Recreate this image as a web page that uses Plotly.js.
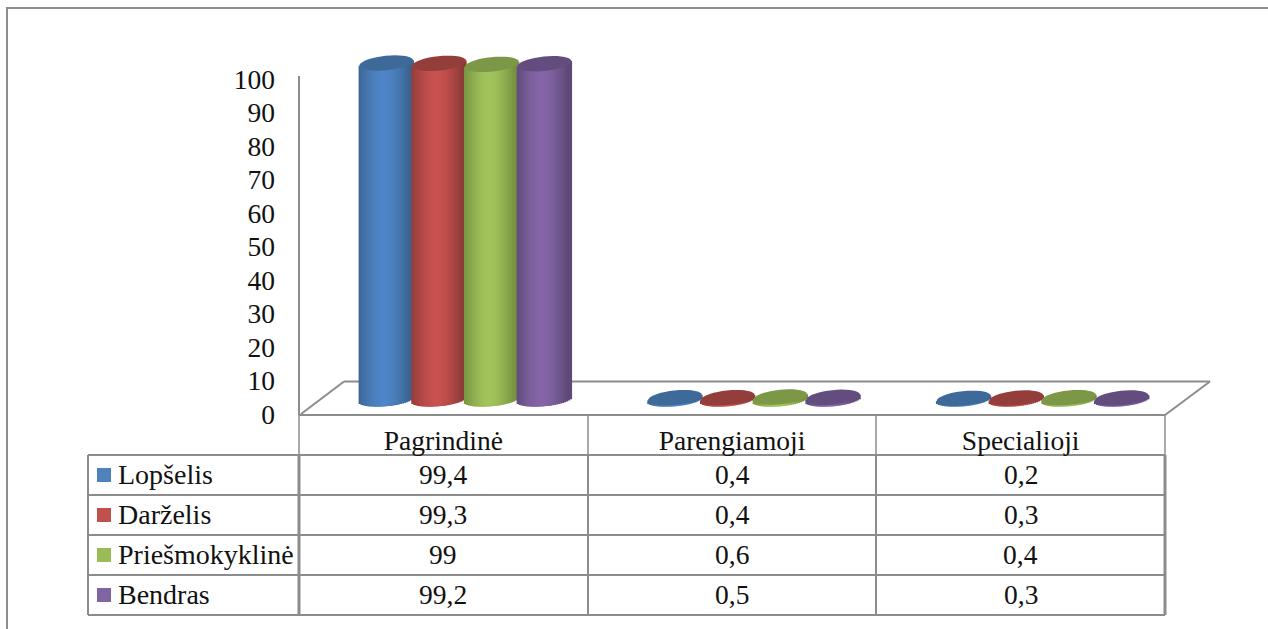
<!DOCTYPE html>
<html><head><meta charset="utf-8">
<script src="https://cdn.plot.ly/plotly-3.0.1.min.js"></script>
<style>html,body{margin:0;padding:0;background:#fff}#c{width:1268px;height:629px}</style>
</head><body><div id="c"></div>
<script>
var categories = ["Pagrindinė", "Parengiamoji", "Specialioji"];
var seriesNames = ["Lopšelis", "Darželis", "Priešmokyklinė", "Bendras"];
var lopselis = [99.4, 0.4, 0.2];
var darzelis = [99.3, 0.4, 0.3];
var priesmokykline = [99, 0.6, 0.4];
var bendras = [99.2, 0.5, 0.3];
var valueLabels = [["99,4","0,4","0,2"],["99,3","0,4","0,3"],["99","0,6","0,4"],["99,2","0,5","0,3"]];
var yTicks = [0,10,20,30,40,50,60,70,80,90,100];

var seriesValues = [lopselis, darzelis, priesmokykline, bendras];
var bodyCenter = ["#4f86c8","#c9524f","#a2c45c","#8565a8"];
var bodyEdge   = ["#3a6491","#8e3b39","#76913f","#5e4a78"];
var topColor   = ["#3e6a99","#933e3b","#7c9745","#634d7e"];
var swatch     = ["#4f81bd","#c0504d","#9bbb59","#8064a2"];

var W=1268,H=629;
var gray="#8c8c8c";
var colX=[299,588,876,1165], tableLeft=88, rowY=[415,455,495,535,575,615];
var pxX=(colX[3]-colX[0])/3, pxY=3.35;
var yMax=(414-40)/pxY;
var depthX=22/pxX, baseVal=(414-399)/pxY, persp=1.009;
var step=52.7/pxX, rx=27, ry=7.2, tilt=-6*Math.PI/180, N=27;
function hex(c){return [parseInt(c.slice(1,3),16),parseInt(c.slice(3,5),16),parseInt(c.slice(5,7),16)];}
function mix(a,b,t){var A=hex(a),B=hex(b);return "rgb("+A.map(function(v,i){return Math.round(v+(B[i]-v)*t);}).join(",")+")";}
// lower edge of a tilted ellipse at px offset dx
function ellipseLow(dx){
  var c=Math.cos(tilt),s=Math.sin(tilt),best=-1e9;
  for(var a=0;a<=360;a+=1){
    var t=a*Math.PI/180,x=rx*Math.cos(t)*c-ry*Math.sin(t)*s,y=rx*Math.cos(t)*s+ry*Math.sin(t)*c;
    if(Math.abs(x-dx)<1.2&&y>best)best=y;
  }
  return best<-1e8?0:best;
}
var traces=[],shapes=[],annotations=[];
seriesValues.forEach(function(vals,s){
  for(var k=0;k<N;k++){
    var f=(k+0.5)/N*2-1, dxPx=f*rx;
    var low=ellipseLow(dxPx)/pxY;
    var topDelta=-dxPx*Math.tan(tilt)/pxY;
    var sh=Math.abs(f+0.08); sh=Math.min(1,sh/0.95);
    traces.push({type:"bar",name:seriesNames[s],showlegend:false,hoverinfo:"skip",cliponaxis:false,
      x:categories.map(function(c,i){return i+depthX+(s-1.5)*step+dxPx/pxX;}),
      y:vals.map(function(v){return v*persp+low+topDelta;}),
      base:vals.map(function(){return baseVal-low;}),
      width:2*rx/N*1.7/pxX,
      marker:{color:mix(bodyCenter[s],bodyEdge[s],Math.pow(sh,1.6)),line:{width:0}}});
  }
});
// top ellipses
seriesValues.forEach(function(vals,s){
  vals.forEach(function(v,i){
    var cx=i+depthX+(s-1.5)*step, cy=baseVal+v*persp, p=[];
    for(var a=0;a<360;a+=10){
      var t=a*Math.PI/180,ex=rx*Math.cos(t),ey=ry*Math.sin(t);
      var X=ex*Math.cos(tilt)-ey*Math.sin(tilt),Y=ex*Math.sin(tilt)+ey*Math.cos(tilt);
      p.push((a?"L":"M")+(cx+X/pxX).toFixed(5)+","+(cy-Y/pxY).toFixed(4));
    }
    shapes.push({type:"path",xref:"x",yref:"y",layer:"above",path:p.join(" ")+" Z",fillcolor:topColor[s],line:{width:0}});
  });
});
function pLine(x0,y0,x1,y1,w){
  shapes.push({type:"line",xref:"paper",yref:"paper",layer:"below",x0:x0/W,x1:x1/W,y0:1-y0/H,y1:1-y1/H,line:{color:gray,width:w||2}});
}
// frame
pLine(7,8,W,8,2); pLine(7,7,7,629,2);
// y axis wall line and floor
pLine(299,76,299,415,2);
pLine(301,414,344,381.5,2); pLine(344,381.5,1210,381.5,2); pLine(1210,381.5,1165,415,2);
// table
pLine(299,415,1165,415,2);
rowY.slice(1).forEach(function(y){pLine(tableLeft,y,1165,y,2);});
pLine(tableLeft,455,tableLeft,615,2);
colX.forEach(function(x,i){
  pLine(x,415,x,455,1.5);
  pLine(x,455,x,615,(i===0||i===3)?3:2);
});
var fontT={family:"Liberation Serif",size:27.5,color:"#111"};
var fontL={family:"Liberation Serif",size:28,color:"#111"};
seriesNames.forEach(function(n,r){
  var cy=(rowY[r+1]+rowY[r+2])/2;
  shapes.push({type:"rect",xref:"paper",yref:"paper",layer:"above",x0:97/W,x1:111/W,y0:1-(cy-7)/H,y1:1-(cy+7)/H,fillcolor:swatch[r],line:{width:0}});
  annotations.push({xref:"paper",yref:"paper",x:116.5/W,y:1-(cy-0.5)/H,xanchor:"left",yanchor:"middle",showarrow:false,text:n,font:fontL,borderpad:0});
  categories.forEach(function(c,i){
    annotations.push({xref:"x",yref:"paper",x:i,y:1-(cy-0.5)/H,xanchor:"center",yanchor:"middle",showarrow:false,text:valueLabels[r][i],font:fontT,borderpad:0});
  });
});
var layout={
  width:W,height:H,margin:{l:0,r:0,t:0,b:0},paper_bgcolor:"#fff",plot_bgcolor:"rgba(0,0,0,0)",
  barmode:"overlay",showlegend:false,
  xaxis:{domain:[colX[0]/W,colX[3]/W],range:[-0.5,2.5],tickvals:[0,1,2],ticktext:categories,ticks:"",ticklabelstandoff:7,
    tickfont:fontT,showgrid:false,zeroline:false,showline:false,automargin:false,anchor:"y"},
  yaxis:{domain:[1-414/H,1-40/H],range:[0,yMax],tickvals:yTicks,ticks:"",ticklabelstandoff:23,
    tickfont:fontT,showgrid:false,zeroline:false,showline:false,automargin:false,anchor:"x"},
  shapes:shapes,annotations:annotations
};
Plotly.newPlot("c",traces,layout,{staticPlot:true,displayModeBar:false});
</script></body></html>
